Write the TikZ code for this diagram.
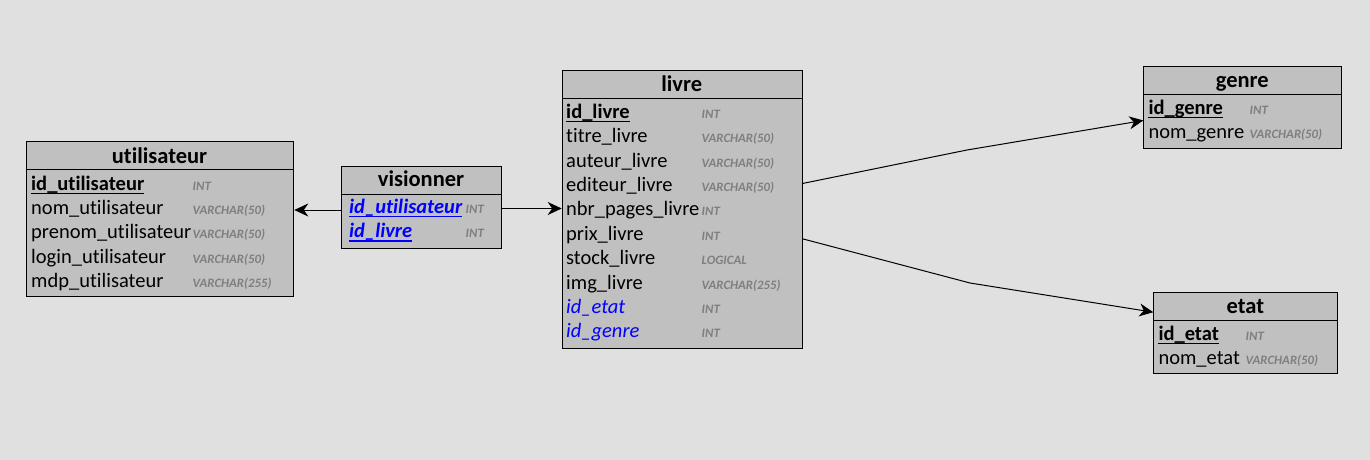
\documentclass[tikz,border=0pt]{standalone}
\usepackage{fontspec}
\setmainfont{Carlito}[Ligatures={NoCommon}]
\usetikzlibrary{arrows.meta}
\definecolor{bgc}{HTML}{E0E0E0}
\definecolor{boxc}{HTML}{C0C0C0}
\definecolor{fkc}{HTML}{0000FF}
\definecolor{typc}{HTML}{7F7F7F}
\tikzset{
  tbl/.style={draw=black, line width=1pt, fill=boxc, anchor=north west, inner sep=0pt},
  hdr/.style={font=\fontsize{22.5}{24}\selectfont\bfseries, anchor=base, inner sep=0pt},
  fld/.style={font=\fontsize{20.5}{22}\selectfont, anchor=base west, inner sep=0pt},
  pk/.style={fld, font=\fontsize{20.5}{22}\selectfont\bfseries},
  fk/.style={fld, text=fkc, font=\fontsize{20.5}{22}\selectfont\itshape},
  pfk/.style={fld, text=fkc, font=\fontsize{20.5}{22}\selectfont\bfseries\itshape},
  typ/.style={font=\fontsize{12.8}{14}\selectfont\bfseries\itshape, text=typc, anchor=base west, inner sep=0pt},
  sepline/.style={draw=black, line width=1pt},
  ul/.style={line width=1.2pt},
  ulb/.style={line width=1.2pt, draw=fkc},
  rel/.style={draw=black, line width=1pt, -{Stealth[length=14pt,width=13pt,inset=4.5pt]}},
}
\begin{document}
\begin{tikzpicture}[x=1pt,y=-1pt]
\fill[bgc] (0,0) rectangle (1370,460);
\useasboundingbox (0,0) rectangle (1370,460);

% ---------- utilisateur ----------
\node[tbl, minimum width=267.6pt, minimum height=155.3pt] (util) at (25.7,141) {};
\draw[sepline] (util.west |- 0,169.3) -- (util.east |- 0,169.3);
\node[hdr] (utilh) at (159.5,163.3) {utilisateur};
\node[pk] (uid) at (31,190) {id\_utilisateur};
\node[fld] (unom) at (31,214.3) {nom\_utilisateur};
\node[fld] (upre) at (31,238.6) {prenom\_utilisateur};
\node[fld] (ulog) at (31,263) {login\_utilisateur};
\node[fld] (umdp) at (31,287.3) {mdp\_utilisateur};
\node[typ] (uidt) at (192.5,190) {INT};
\node[typ] (unomt) at (192.5,214.3) {VARCHAR(50)};
\node[typ] (upret) at (192.5,238.6) {VARCHAR(50)};
\node[typ] (ulogt) at (192.5,263) {VARCHAR(50)};
\node[typ] (umdpt) at (192.5,287.3) {VARCHAR(255)};
\draw[ul] ([yshift=-3.5pt]uid.base west) -- ([yshift=-3.5pt]uid.base east);

% ---------- visionner ----------
\node[tbl, minimum width=160.6pt, minimum height=82.6pt] (vis) at (340.7,165.7) {};
\draw[sepline] (vis.west |- 0,194.3) -- (vis.east |- 0,194.3);
\node[hdr] (vish) at (421,186.7) {visionner};
\node[pfk] (vuid) at (349,213.5) {id\_utilisateur};
\node[pfk] (vlid) at (349,237.8) {id\_livre};
\node[typ] (vuidt) at (465.5,213.5) {INT};
\node[typ] (vlidt) at (465.5,237.8) {INT};
\draw[ulb] ([yshift=-3.2pt]vuid.base west) -- ([yshift=-3.2pt]vuid.base east);
\draw[ulb] ([yshift=-3.2pt]vlid.base west) -- ([yshift=-3.2pt]vlid.base east);

% ---------- livre ----------
\node[tbl, minimum width=240pt, minimum height=277.7pt] (livre) at (561.7,70) {};
\draw[sepline] (livre.west |- 0,98.3) -- (livre.east |- 0,98.3);
\node[hdr] (livreh) at (681.7,91.7) {livre};
\node[pk] (lid) at (566,118.3) {id\_livre};
\node[fld] (ltit) at (566,142.7) {titre\_livre};
\node[fld] (laut) at (566,167.1) {auteur\_livre};
\node[fld] (ledi) at (566,191.5) {editeur\_livre};
\node[fld] (lnbr) at (566,215.9) {nbr\_pages\_livre};
\node[fld] (lpri) at (566,240.3) {prix\_livre};
\node[fld] (lsto) at (566,264.7) {stock\_livre};
\node[fld] (limg) at (566,289.1) {img\_livre};
\node[fk] (leta) at (566,313.5) {id\_etat};
\node[fk] (lgen) at (566,337.9) {id\_genre};
\node[typ] (lidt) at (701.5,118.3) {INT};
\node[typ] (ltitt) at (701.5,142.7) {VARCHAR(50)};
\node[typ] (lautt) at (701.5,167.1) {VARCHAR(50)};
\node[typ] (ledit) at (701.5,191.5) {VARCHAR(50)};
\node[typ] (lnbrt) at (701.5,215.9) {INT};
\node[typ] (lprit) at (701.5,240.3) {INT};
\node[typ] (lstot) at (701.5,264.7) {LOGICAL};
\node[typ] (limgt) at (701.5,289.1) {VARCHAR(255)};
\node[typ] (letat) at (701.5,313.5) {INT};
\node[typ] (lgent) at (701.5,337.9) {INT};
\draw[ul] ([yshift=-3.5pt]lid.base west) -- ([yshift=-3.5pt]lid.base east);

% ---------- genre ----------
\node[tbl, minimum width=198pt, minimum height=82.3pt] (genre) at (1143.3,66) {};
\draw[sepline] (genre.west |- 0,94.3) -- (genre.east |- 0,94.3);
\node[hdr] (genreh) at (1242.3,87.3) {genre};
\node[pk] (gid) at (1148.3,114) {id\_genre};
\node[fld] (gnom) at (1148.3,138.3) {nom\_genre};
\node[typ] (gidt) at (1249.5,114) {INT};
\node[typ] (gnomt) at (1249.5,138.3) {VARCHAR(50)};
\draw[ul] ([yshift=-3.5pt]gid.base west) -- ([yshift=-3.5pt]gid.base east);

% ---------- etat ----------
\node[tbl, minimum width=184pt, minimum height=81.6pt] (etat) at (1153.3,291.7) {};
\draw[sepline] (etat.west |- 0,320) -- (etat.east |- 0,320);
\node[hdr] (etath) at (1245.3,313.3) {etat};
\node[pk] (eid) at (1158.3,340) {id\_etat};
\node[fld] (enom) at (1158.3,364.3) {nom\_etat};
\node[typ] (eidt) at (1245.5,340) {INT};
\node[typ] (enomt) at (1245.5,364.3) {VARCHAR(50)};
\draw[ul] ([yshift=-3.5pt]eid.base west) -- ([yshift=-3.5pt]eid.base east);

% ---------- relations ----------
\coordinate (va) at ([yshift=-2.5pt]vis.west);
\draw[rel] (va) -- (va -| util.east);
\coordinate (vb) at ([yshift=-1pt]vis.east);
\draw[rel] (vb) -- (vb -| livre.west);
\coordinate (bg) at (967,150);
\coordinate (be) at (970,283);
\draw[rel] ([yshift=25.9pt]livre.east) -- (bg) -- ([yshift=-12.8pt]genre.west);
\draw[rel] ([yshift=-29.5pt]livre.east) -- (be) -- ([yshift=20.8pt]etat.west);
\end{tikzpicture}
\end{document}
